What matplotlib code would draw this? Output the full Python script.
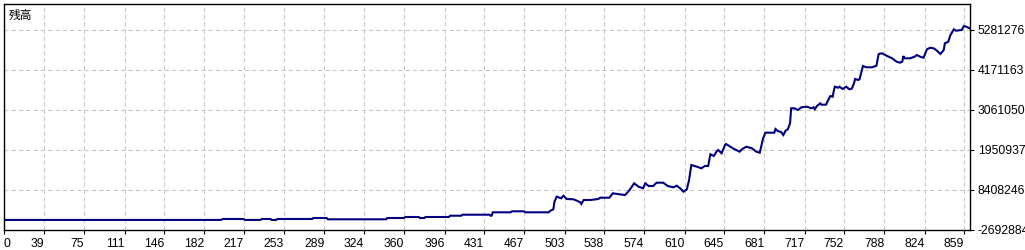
import matplotlib
matplotlib.use('Agg')
import matplotlib.pyplot as plt

# balance curve (trade number, balance)
trade = [4, 197, 198, 217, 218, 232, 233, 241, 242, 246, 247, 278, 279, 291, 292, 344, 345, 360,
         361, 373, 374, 378, 379, 400, 401, 411, 412, 436, 437, 438, 439, 455, 456, 467, 468, 489,
         490, 493, 494, 496, 500, 502, 505, 511, 514, 517, 518, 520, 526, 533, 535, 543, 546, 552,
         557, 561, 565, 569, 573, 575, 578, 582, 585, 591, 595, 600, 603, 606, 609, 612, 614, 616,
         621, 625, 628, 631, 633, 636, 639, 640, 643, 646, 647, 653, 659, 661, 665, 670, 674, 677,
         680, 682, 690, 691, 693, 696, 698, 700, 702, 704, 705, 708, 711, 714, 719, 723, 725, 726,
         728, 731, 732, 736, 738, 740, 742, 743, 744, 747, 748, 751, 754, 757, 759, 761, 762, 765,
         766, 769, 772, 777, 781, 783, 786, 790, 795, 799, 802, 804, 805, 806, 811, 815, 817, 820,
         823, 826, 829, 832, 835, 838, 841, 842, 845, 847, 850, 852, 857, 859, 861, 864]
balance = [10000, 10000, 36000, 36000, 10000, 10000, 36000, 36000, 10000, 10000, 36000, 36000,
           63700, 63700, 27700, 27700, 63700, 63700, 91500, 91500, 63700, 63700, 91500, 91500,
           127600, 127600, 155300, 155300, 127600, 127600, 222000, 222000, 249700, 249700, 222000,
           222000, 258000, 305000, 516000, 654900, 610600, 682600, 591000, 582700, 543800, 499400,
           452300, 563300, 563300, 591000, 627100, 627100, 749200, 721500, 702000, 840800, 1026800,
           932400, 888000, 1026800, 951800, 951800, 1043400, 1043400, 951800, 915800, 960200,
           888000, 793600, 860300, 1118400, 1534600, 1487500, 1443100, 1506900, 1506900, 1831600,
           1784400, 1931400, 1950900, 1859300, 2089700, 2117500, 1998100, 1903700, 1970300,
           2042500, 1998100, 1903700, 1876000, 2275600, 2431100, 2431100, 2533700, 2478200,
           2450500, 2367200, 2486600, 2525400, 2691900, 3108200, 3108200, 3061000, 3135900,
           3152600, 3108200, 3135900, 3080500, 3172100, 3247000, 3208200, 3208200, 3338600,
           3449600, 3430200, 3596700, 3707700, 3680000, 3707700, 3643900, 3707700, 3635600,
           3652200, 3802100, 3921400, 3893600, 3921400, 4282200, 4246100, 4246100, 4290500,
           4615200, 4634600, 4568000, 4495800, 4401500, 4373800, 4401500, 4559700, 4495800,
           4495800, 4540300, 4587100, 4540300, 4512400, 4745600, 4790000, 4773400, 4706800,
           4615200, 4726200, 4912200, 4956600, 5142500, 5300700, 5261800, 5281300, 5392300,
           5372900, 5328500]

x_ticks = [39, 75, 111, 146, 182, 217, 253, 289, 324, 360, 396, 431, 467, 503, 538, 574, 610,
           645, 681, 717, 752, 788, 824, 859]
y_ticks = [5281276, 4171163, 3061050, 1950937, 840824, -269289]
y_labels = ['5281276', '4171163', '3061050', '1950937', '8408246', '-2692884']

x_left, x_right = 3.35, 864.4
y_low, y_high = -269284, 6002849

plt.rcParams['font.family'] = ['Liberation Sans', 'DejaVu Sans']

fig = plt.figure(figsize=(10.25, 2.5), dpi=100)
ax = fig.add_axes([4 / 1025, 20 / 250, 966 / 1025, 226 / 250])

ax.plot(trade, balance, color='#000080', linewidth=1.5, solid_joinstyle='miter')

ax.set_xlim(x_left, x_right)
ax.set_ylim(y_low, y_high)

ax.set_xticks([x_left] + x_ticks)
ax.set_xticklabels(['0'] + [str(t) for t in x_ticks])
ax.set_yticks(y_ticks)
ax.set_yticklabels(y_labels)
ax.yaxis.tick_right()

for lab in ax.get_xticklabels():
    lab.set_ha('right')
ax.get_xticklabels()[0].set_ha('left')

ax.tick_params(axis='both', length=3, width=0.8, labelsize=8.7, colors='black')
ax.tick_params(axis='y', pad=2.5)
ax.tick_params(axis='x', pad=3)

ax.grid(True, color='#c8c8c8', linestyle=(0, (4, 3)), linewidth=0.75)
ax.set_axisbelow(True)
for sp in ax.spines.values():
    sp.set_linewidth(1.0)
    sp.set_color('black')

ax.text(0.005, 0.951, '残高', transform=ax.transAxes, ha='left', va='center',
        fontsize=8.5, family=['Noto Sans CJK JP', 'DejaVu Sans'])

fig.savefig('out.png', dpi=100)
